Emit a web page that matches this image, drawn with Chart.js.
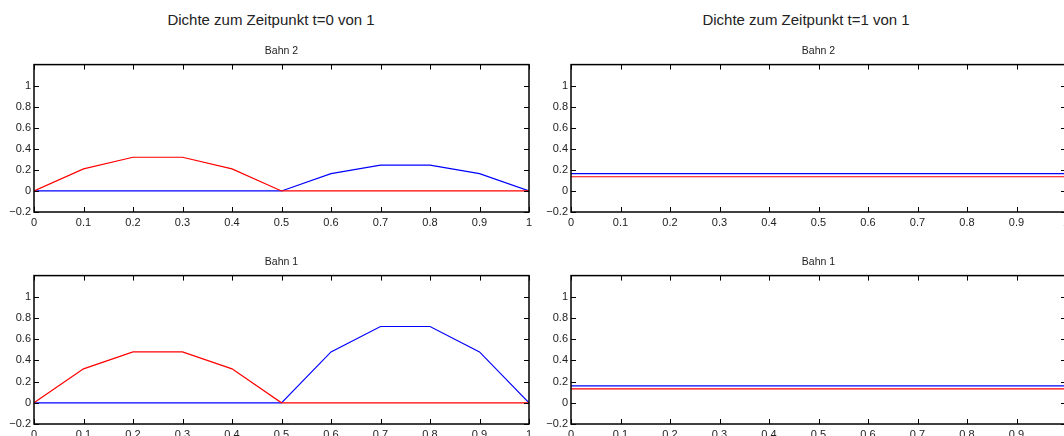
<!DOCTYPE html>
<html>
<head>
<meta charset="utf-8">
<title>Dichte</title>
<script src="https://cdn.jsdelivr.net/npm/chart.js@4/dist/chart.umd.min.js"></script>
<style>
  html, body { margin: 0; padding: 0; background: #fff; overflow: hidden; width: 1064px; height: 436px; }
  body { position: relative; font-family: "Liberation Sans", Arial, sans-serif; }
  .haupttitel { position: absolute; top: 11px; font-size: 15px; line-height: 17px; color: #222; white-space: nowrap; transform: translateX(-50%); }
  canvas { position: absolute; }
</style>
</head>
<body>

<div class="haupttitel" style="left:271px">Dichte zum Zeitpunkt t=0 von 1</div>
<div class="haupttitel" style="left:806px">Dichte zum Zeitpunkt t=1 von 1</div>

<canvas id="t0-bahn2" width="545" height="183" style="left:0px; top:45px"></canvas>
<canvas id="t1-bahn2" width="539" height="183" style="left:537px; top:45px"></canvas>
<canvas id="t0-bahn1" width="545" height="184" style="left:0px; top:256px"></canvas>
<canvas id="t1-bahn1" width="539" height="184" style="left:537px; top:256px"></canvas>

<script>
// Ort auf der Bahn (x-Achse)
var orte = [0, 0.1, 0.2, 0.3, 0.4, 0.5, 0.6, 0.7, 0.8, 0.9, 1];

// t=0
var bahn2RotT0  = [0, 0.21, 0.32, 0.32, 0.21, 0, 0, 0, 0, 0, 0];
var bahn2BlauT0 = [0, 0, 0, 0, 0, 0, 0.165, 0.245, 0.245, 0.165, 0];
var bahn1RotT0  = [0, 0.32, 0.48, 0.48, 0.32, 0, 0, 0, 0, 0, 0];
var bahn1BlauT0 = [0, 0, 0, 0, 0, 0, 0.48, 0.72, 0.72, 0.48, 0];

// t=1
var bahn2RotT1  = [0.135, 0.135, 0.135, 0.135, 0.135, 0.135, 0.135, 0.135, 0.135, 0.135, 0.135];
var bahn2BlauT1 = [0.165, 0.165, 0.165, 0.165, 0.165, 0.165, 0.165, 0.165, 0.165, 0.165, 0.165];
var bahn1RotT1  = [0.132, 0.132, 0.132, 0.132, 0.132, 0.132, 0.132, 0.132, 0.132, 0.132, 0.132];
var bahn1BlauT1 = [0.16, 0.16, 0.16, 0.16, 0.16, 0.16, 0.16, 0.16, 0.16, 0.16, 0.16];

var xTicks = [0, 0.1, 0.2, 0.3, 0.4, 0.5, 0.6, 0.7, 0.8, 0.9, 1];
var yTicks = [-0.2, 0, 0.2, 0.4, 0.6, 0.8, 1];

var schrift = '"Liberation Sans", Arial, sans-serif';

function punkte(werte) {
  return orte.map(function(x, i) { return { x: x, y: werte[i] }; });
}

function formatZahl(v) {
  var s = String(Number(v.toFixed(1)));
  return s.replace('-', '\u2212');
}

// matlab-artiger Rahmen mit Ticks nach innen
var rahmenPlugin = {
  id: 'rahmen',
  afterDraw: function(chart) {
    var ctx = chart.ctx;
    var a = chart.chartArea;
    var xs = chart.scales.x;
    var ys = chart.scales.y;
    var len = 5;
    ctx.save();
    ctx.strokeStyle = '#000';
    ctx.lineWidth = 1;
    ctx.beginPath();
    xTicks.forEach(function(t) {
      var px = Math.round(xs.getPixelForValue(t)) + 0.5;
      ctx.moveTo(px, a.bottom);
      ctx.lineTo(px, a.bottom - len);
      ctx.moveTo(px, a.top);
      ctx.lineTo(px, a.top + len);
    });
    yTicks.forEach(function(t) {
      var py = Math.round(ys.getPixelForValue(t)) + 0.5;
      ctx.moveTo(a.left, py);
      ctx.lineTo(a.left + len, py);
      ctx.moveTo(a.right, py);
      ctx.lineTo(a.right - len, py);
    });
    ctx.stroke();
    ctx.lineWidth = 1.5;
    ctx.strokeRect(a.left, a.top, a.right - a.left, a.bottom - a.top);
    ctx.restore();
  }
};

function zeichne(id, titel, rot, blau, rechts) {
  var ctx = document.getElementById(id);
  return new Chart(ctx, {
    type: 'line',
    data: {
      datasets: [
        { data: punkte(rot), borderColor: '#ff0000', borderWidth: 1.2, pointRadius: 0, tension: 0 },
        { data: punkte(blau), borderColor: '#0000ff', borderWidth: 1.2, pointRadius: 0, tension: 0 }
      ]
    },
    options: {
      responsive: false,
      maintainAspectRatio: false,
      animation: false,
      layout: { padding: { left: 0, top: 0, right: rechts, bottom: 0 } },
      plugins: {
        legend: { display: false },
        tooltip: { enabled: false },
        title: {
          display: true,
          fullSize: false,
          text: titel,
          color: '#222',
          font: { family: schrift, size: 10.5, weight: 'normal' },
          padding: { top: 0, bottom: 7 }
        }
      },
      scales: {
        x: {
          type: 'linear',
          position: 'bottom',
          min: 0,
          max: 1,
          grid: { display: false, drawTicks: false },
          border: { display: false },
          afterFit: function(scale) { scale.height = 16; },
          afterBuildTicks: function(scale) {
            scale.ticks = xTicks.map(function(v) { return { value: v }; });
          },
          ticks: {
            color: '#222',
            padding: 4,
            maxRotation: 0,
            autoSkip: false,
            font: { family: schrift, size: 11 },
            callback: function(v) { return formatZahl(v); }
          }
        },
        y: {
          min: -0.2,
          max: 1.2,
          grid: { display: false, drawTicks: false },
          border: { display: false },
          afterFit: function(scale) { scale.width = 34; },
          afterBuildTicks: function(scale) {
            scale.ticks = yTicks.map(function(v) { return { value: v }; });
          },
          ticks: {
            color: '#222',
            padding: 3,
            autoSkip: false,
            font: { family: schrift, size: 11 },
            callback: function(v) { return formatZahl(v); }
          }
        }
      }
    },
    plugins: [rahmenPlugin]
  });
}

zeichne('t0-bahn2', 'Bahn 2', bahn2RotT0, bahn2BlauT0, 16);
zeichne('t1-bahn2', 'Bahn 2', bahn2RotT1, bahn2BlauT1, 10);
zeichne('t0-bahn1', 'Bahn 1', bahn1RotT0, bahn1BlauT0, 16);
zeichne('t1-bahn1', 'Bahn 1', bahn1RotT1, bahn1BlauT1, 10);
</script>
</body>
</html>
